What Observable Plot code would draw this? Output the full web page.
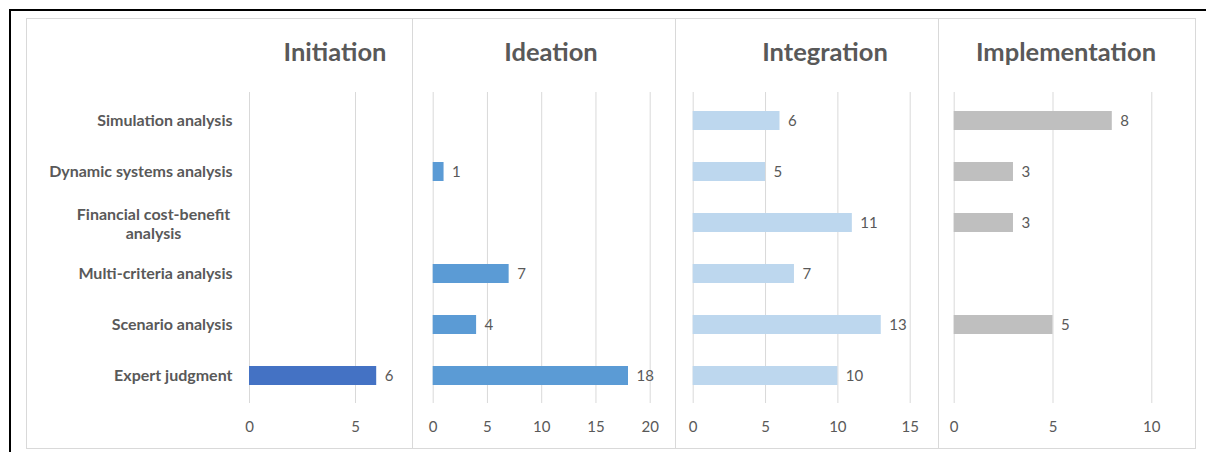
<!DOCTYPE html>
<html>
<head>
<meta charset="utf-8">
<script src="https://cdn.jsdelivr.net/npm/d3@7"></script>
<script src="https://cdn.jsdelivr.net/npm/@observablehq/plot@0.6"></script>
<style>
  html, body { margin: 0; padding: 0; background: #fff; }
  #chart { position: relative; width: 1206px; height: 452px; overflow: hidden; background: #fff; font-family: Lato, "Open Sans", sans-serif; }
  .abs { position: absolute; }
  .title { position: absolute; width: 240px; text-align: center; font-weight: bold; font-size: 25.5px; line-height: 25px; color: #595959; }
</style>
</head>
<body>
<div id="chart"></div>
<script>
// ---- data ----
const categories = ["Simulation analysis", "Dynamic systems analysis", "Financial cost-benefit analysis", "Multi-criteria analysis", "Scenario analysis", "Expert judgment"];
const stages = ["Initiation", "Ideation", "Integration", "Implementation"];
const initiation = [null, null, null, null, null, 6];
const ideation = [null, 1, null, 7, 4, 18];
const integration = [6, 5, 11, 7, 13, 10];
const implementation = [8, 3, 3, null, 5, null];
const stageColors = ["#4472C4", "#5B9BD5", "#BDD7EE", "#BFBFBF"];
const tickInitiation = [0, 5];
const tickIdeation = [0, 5, 10, 15, 20];
const tickIntegration = [0, 5, 10, 15];
const tickImplementation = [0, 5, 10];
const labelLines = {"Financial cost-benefit analysis": "Financial cost-benefit\nanalysis"};

const seriesValues = [initiation, ideation, integration, implementation];
const seriesTicks = [tickInitiation, tickIdeation, tickIntegration, tickImplementation];

// ---- layout ----
const chart = document.getElementById("chart");
const TEXT = "#595959";
const GRID = "#D9D9D9";

function addDiv(style) {
  const d = document.createElement("div");
  d.className = "abs";
  Object.assign(d.style, style);
  chart.appendChild(d);
  return d;
}
// black outer frame (left & top)
addDiv({left: "9px", top: "9px", width: "1300px", height: "600px", borderLeft: "2px solid #000", borderTop: "2px solid #000"});
// gray chart-area frame
addDiv({left: "26px", top: "18px", width: "1168px", height: "429px", border: "1px solid " + GRID});

const layout = [
  {left: 26, width: 386, ml: 223, mr: 14.6, domain: [0, 7], titleX: 335},
  {left: 412, width: 263, ml: 20.7, mr: 25.3, domain: [0, 20], titleX: 551},
  {left: 675, width: 263, ml: 17.7, mr: 28.3, domain: [0, 15], titleX: 825},
  {left: 938, width: 257, ml: 15.7, mr: 43.7, domain: [0, 10], titleX: 1066}
];

// panel dividers
[412, 675, 938].forEach(x => addDiv({left: x + "px", top: "18px", width: "1px", height: "430px", background: GRID}));

stages.forEach((stage, i) => {
  const L = layout[i];
  const rows = categories.map((c, j) => ({category: c, value: seriesValues[i][j]})).filter(d => d.value != null);
  const marks = [
    Plot.gridX(seriesTicks[i], {stroke: GRID, strokeOpacity: 1, strokeWidth: 1}),
    Plot.barX(rows, {x: "value", y: "category", fill: stageColors[i]}),
    Plot.text(rows, {x: "value", y: "category", text: d => String(d.value), textAnchor: "start", dx: 8, fill: TEXT, fontSize: 15}),
    Plot.axisX(seriesTicks[i], {tickSize: 0, tickPadding: 18, fontSize: 15, color: TEXT, label: null})
  ];
  if (i === 0) {
    marks.push(Plot.axisY(categories.filter(c => !labelLines[c]), {tickSize: 0, tickPadding: 17, fontSize: 16, fontWeight: "bold", color: TEXT, label: null}));
    marks.push(Plot.axisY(categories.filter(c => labelLines[c]), {tickSize: 0, tickPadding: 96, textAnchor: "middle", lineHeight: 1.2, fontSize: 16, fontWeight: "bold", color: TEXT, label: null, tickFormat: c => labelLines[c]}));
  }
  const svg = Plot.plot({
    width: L.width,
    height: 430,
    marginLeft: L.ml,
    marginRight: L.mr,
    marginTop: 74,
    marginBottom: 45,
    style: {fontFamily: "Lato, 'Open Sans', sans-serif", background: "transparent", overflow: "visible"},
    x: {domain: L.domain, label: null, axis: null},
    y: {domain: categories, paddingInner: 0.63, paddingOuter: 0.315, label: null, axis: null},
    marks
  });
  svg.style.position = "absolute";
  svg.style.left = L.left + "px";
  svg.style.top = "18px";
  chart.appendChild(svg);

  const t = document.createElement("div");
  t.className = "title";
  t.textContent = stage;
  t.style.left = (L.titleX - 120) + "px";
  t.style.top = "39px";
  chart.appendChild(t);
});
</script>
</body>
</html>
